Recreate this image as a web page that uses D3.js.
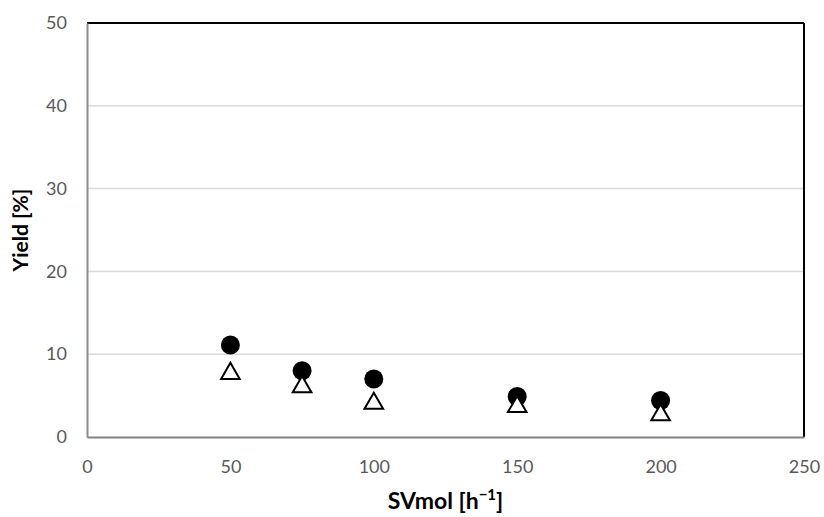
<!DOCTYPE html>
<html>
<head>
<meta charset="utf-8">
<script src="https://cdn.jsdelivr.net/npm/d3@7"></script>
<style>
  body { margin: 0; background: #fff; }
  text { font-family: Lato, "Open Sans", sans-serif; }
</style>
</head>
<body>
<div id="chart"></div>
<script>
// data
var svmol = [50, 75, 100, 150, 200];
var yieldCircle = [11.1, 8.0, 7.0, 4.9, 4.4];
var yieldTriangle = [7.9, 6.3, 4.3, 3.9, 2.9];
var xTicks = [0, 50, 100, 150, 200, 250];
var yTicks = [0, 10, 20, 30, 40, 50];

var svgWidth = 824;
var svgHeight = 517;
var margin = { top: 23, right: 20, bottom: 80, left: 87 };
var width = 804 - margin.left;
var height = 437 - margin.top;

var svg = d3.select("#chart").append("svg")
  .attr("width", svgWidth)
  .attr("height", svgHeight);

var chartGroup = svg.append("g")
  .attr("transform", `translate(${margin.left}, ${margin.top})`);

var x = d3.scaleLinear().domain([0, 250]).range([0, width]);
var y = d3.scaleLinear().domain([0, 50]).range([height, 0]);

// gridlines
chartGroup.append("g")
  .selectAll("line")
  .data(yTicks.filter(d => d > 0 && d < 50))
  .enter()
  .append("line")
  .attr("x1", 0)
  .attr("x2", width)
  .attr("y1", d => y(d))
  .attr("y2", d => y(d))
  .attr("stroke", "#d9d9d9")
  .attr("stroke-width", 1.5);

// frame: top and right black, left and bottom gray
chartGroup.append("line")
  .attr("x1", 0).attr("x2", width).attr("y1", 0).attr("y2", 0)
  .attr("stroke", "#000").attr("stroke-width", 2);
chartGroup.append("line")
  .attr("x1", width).attr("x2", width).attr("y1", 0).attr("y2", height)
  .attr("stroke", "#000").attr("stroke-width", 2);

// axes
var bottomAxis = d3.axisBottom(x).tickValues(xTicks).tickSize(0).tickPadding(23);
var leftAxis = d3.axisLeft(y).tickValues(yTicks).tickSize(0).tickPadding(20);

var xAxis = chartGroup.append("g")
  .attr("transform", `translate(0, ${height})`)
  .call(bottomAxis);
xAxis.select(".domain").attr("stroke", "#808080").attr("stroke-width", 2);

var yAxis = chartGroup.append("g").call(leftAxis);
yAxis.select(".domain").attr("stroke", "#8c8c8c").attr("stroke-width", 2);

chartGroup.selectAll(".tick text")
  .attr("fill", "#595959")
  .style("font-size", "18px")
  .style("font-family", "Lato, 'Open Sans', sans-serif");

// circles
chartGroup.append("g")
  .selectAll("circle")
  .data(svmol)
  .enter()
  .append("circle")
  .attr("cx", d => x(d))
  .attr("cy", (d, i) => y(yieldCircle[i]))
  .attr("r", 9.5)
  .attr("fill", "#000");

// open triangles
var triangle = d3.symbol().type(d3.symbolTriangle).size(150);
chartGroup.append("g")
  .selectAll("path")
  .data(svmol)
  .enter()
  .append("path")
  .attr("d", triangle)
  .attr("transform", (d, i) => `translate(${x(d)}, ${y(yieldTriangle[i]) + 2})`)
  .attr("fill", "#fff")
  .attr("stroke", "#000")
  .attr("stroke-width", 2);

// axis titles
var xTitle = svg.append("text")
  .attr("x", margin.left + width / 2)
  .attr("y", 509)
  .attr("text-anchor", "middle")
  .style("font-size", "23px")
  .style("font-weight", "bold")
  .text("SVmol [h");
xTitle.append("tspan")
  .attr("dy", -9)
  .style("font-size", "15px")
  .text("\u22121");
xTitle.append("tspan")
  .attr("dy", 9)
  .text("]");

svg.append("text")
  .attr("transform", `translate(28, ${margin.top + height / 2}) rotate(-90)`)
  .attr("text-anchor", "middle")
  .style("font-size", "21px")
  .style("font-weight", "bold")
  .text("Yield [%]");
</script>
</body>
</html>
